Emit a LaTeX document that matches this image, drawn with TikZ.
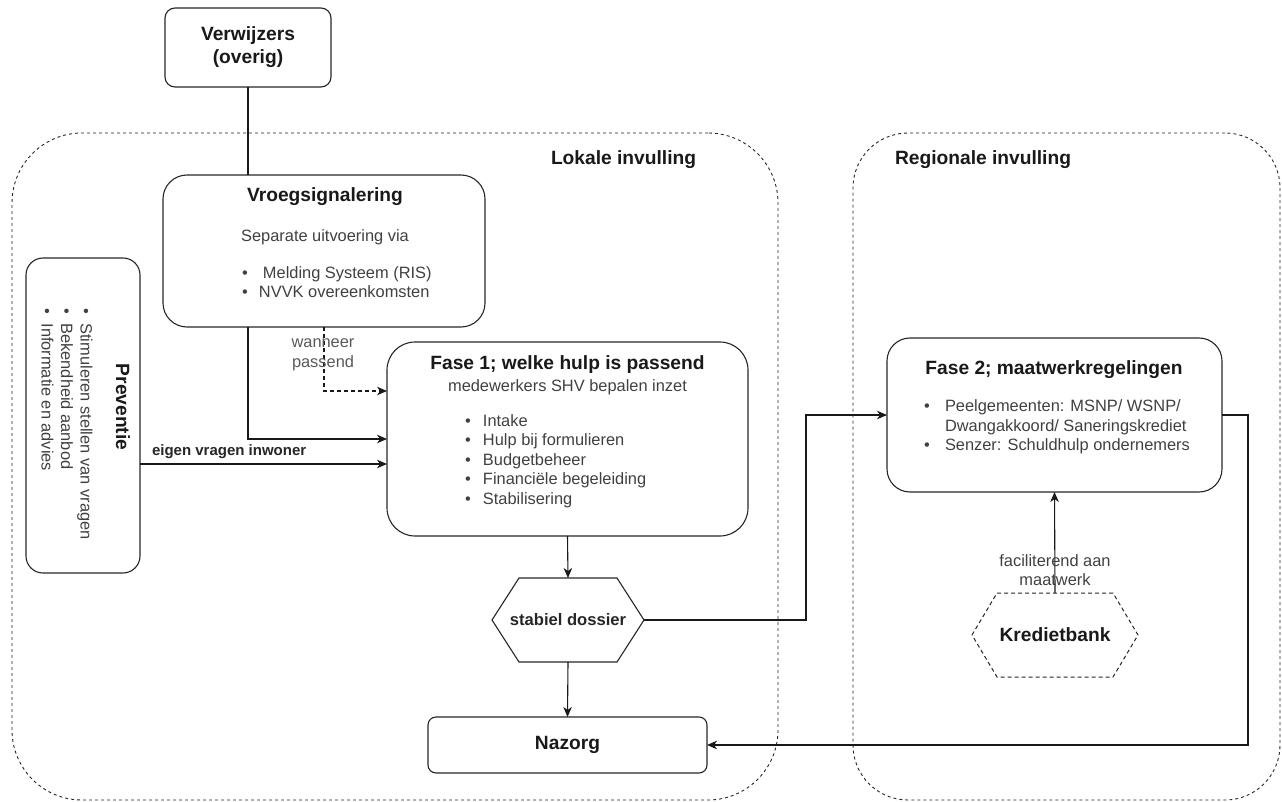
\documentclass[tikz,border=0pt]{standalone}
\usepackage{fontspec}
\setmainfont{Liberation Sans}
\usetikzlibrary{arrows.meta,calc}
\begin{document}
\begin{tikzpicture}[x=1pt,y=-1pt,
  every node/.style={inner sep=0pt, outer sep=0pt},
  box/.style={draw=black!85, line width=1.1pt},
  cont/.style={draw=black!85, line width=0.9pt, dash pattern=on 3pt off 3pt},
  hexd/.style={draw=black!85, line width=1pt, dash pattern=on 4pt off 3pt},
  ttl/.style={font=\fontsize{19.2}{23}\selectfont\bfseries, text=black!90, align=center},
  sttl/.style={font=\fontsize{16.6}{19}\selectfont\bfseries, text=black!85, align=center},
  txt/.style={font=\fontsize{16.4}{19.6}\selectfont, text=black!75, align=left},
  ctxt/.style={font=\fontsize{16.4}{19.6}\selectfont, text=black!75, align=center},
  conn/.style={line width=1.1pt, draw=black!90},
  arr/.style={conn, -{Stealth[length=10pt,width=8.5pt,inset=3pt]}},
  ]
\useasboundingbox (0,0) rectangle (1282,802);

% containers
\node[cont, rounded corners=70pt, minimum width=766pt, minimum height=667pt] (lokaal) at (395,466.5) {};
\node[cont, rounded corners=55pt, minimum width=427pt, minimum height=667pt] (regio) at (1066.5,466.5) {};
\node[ttl, anchor=west] (lokaallbl) at (551,160) {Lokale invulling};
\node[ttl, anchor=west] (regiolbl) at (895,160) {Regionale invulling};

% Verwijzers
\node[box, ttl, rounded corners=10pt, minimum width=166pt, minimum height=79pt] (verw) at (248,47.5) {Verwijzers\\(overig)};

% Vroegsignalering
\node[box, rounded corners=24pt, minimum width=322pt, minimum height=152pt] (vroeg) at (324,251) {};
\node[ttl] (vroegt) at (325,197) {Vroegsignalering};
\node[ctxt] (vroegs) at (325,237) {Separate uitvoering via};
\node[txt, anchor=west] (vroegl) at (242,282) {\makebox[21pt][l]{\textbullet}Melding Systeem (RIS)\\\makebox[17pt][l]{\textbullet}NVVK overeenkomsten};

% Preventie
\node[box, rounded corners=17pt, minimum width=114pt, minimum height=315pt] (prev) at (83,415.5) {};
\node[ttl, rotate=-90] (prevt) at (123,407) {Preventie};
\node[txt, rotate=-90] (prevl) at (67,424) {\makebox[15pt][l]{\textbullet}Stimuleren stellen van vragen\\\makebox[15pt][l]{\textbullet}Bekendheid aanbod\\\makebox[15pt][l]{\textbullet}Informatie en advies};

% Fase 1
\node[box, rounded corners=28pt, minimum width=361pt, minimum height=194pt] (fase1) at (567.5,439) {};
\node[ttl] (f1t) at (567.5,365) {Fase 1; welke hulp is passend};
\node[ctxt] (f1s) at (567.5,387) {medewerkers SHV bepalen inzet};
\node[txt, anchor=west] (f1l) at (465,461) {\makebox[18pt][l]{\textbullet}Intake\\\makebox[18pt][l]{\textbullet}Hulp bij formulieren\\\makebox[18pt][l]{\textbullet}Budgetbeheer\\\makebox[18pt][l]{\textbullet}Financiële begeleiding\\\makebox[18pt][l]{\textbullet}Stabilisering};

% Fase 2
\node[box, rounded corners=23pt, minimum width=335pt, minimum height=154pt] (fase2) at (1054.5,415) {};
\node[ttl] (f2t) at (1054,370) {Fase 2; maatwerkregelingen};
\node[txt, anchor=west] (f2l) at (924,427) {\makebox[21pt][l]{\textbullet}Peelgemeenten: MSNP/ WSNP/\\\makebox[21pt][l]{}Dwangakkoord/ Saneringskrediet\\\makebox[21pt][l]{\textbullet}Senzer: Schuldhulp ondernemers};

% stabiel dossier
\node[sttl, minimum width=152pt, minimum height=84pt] (sd) at (568,620) {stabiel dossier};
\draw[box] (sd.west) -- ([xshift=27pt]sd.north west) -- ([xshift=-27pt]sd.north east) -- (sd.east) -- ([xshift=-27pt]sd.south east) -- ([xshift=27pt]sd.south west) -- cycle;

% Kredietbank
\node[ttl, minimum width=166pt, minimum height=84pt] (kb) at (1055,635) {Kredietbank};
\draw[hexd] (kb.west) -- ([xshift=25pt]kb.north west) -- ([xshift=-25pt]kb.north east) -- (kb.east) -- ([xshift=-25pt]kb.south east) -- ([xshift=25pt]kb.south west) -- cycle;

% Nazorg
\node[box, ttl, rounded corners=8pt, minimum width=279pt, minimum height=56pt] (naz) at (567.5,745) {Nazorg};

% connectors
\draw[conn] (verw.south) -- (verw.south |- vroeg.north);
\draw[arr] (verw.south |- vroeg.south) |- (fase1.west);
\draw[arr, dash pattern=on 4pt off 3pt] (vroeg.south) |- ($(fase1.west)+(0,-48)$);
\node[ctxt, text=black!65] (wp) at (323,355) {wanneer\\passend};
\draw[arr] ($(prev.east)+(0,48.5)$) -- ($(fase1.west)+(0,25)$);
\node[font=\fontsize{15}{18}\selectfont\bfseries, text=black!85, anchor=west] (evi) at (152,452) {eigen vragen inwoner};
\draw[arr] (fase1.south) -- (sd.north);
\draw[arr] (sd.south) -- (naz.north);
\coordinate (k1) at (806,620);
\draw[arr] (sd.east) -- (k1) |- (fase2.west);
\draw[arr] (fase2.east) -- ++(26,0) |- (naz.east);
\draw[arr] (kb.north) -- (fase2.south);
\node[ctxt] (fac) at (1055,570) {faciliterend aan\\maatwerk};

\end{tikzpicture}
\end{document}
